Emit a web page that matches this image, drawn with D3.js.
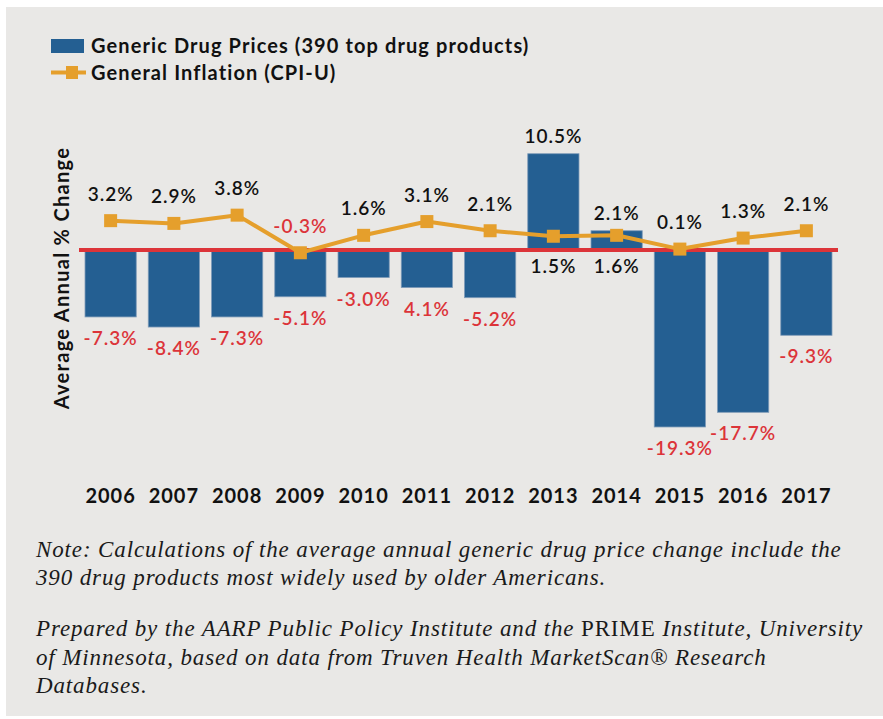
<!DOCTYPE html>
<html>
<head>
<meta charset="utf-8">
<script src="https://cdn.jsdelivr.net/npm/d3@7"></script>
<style>
    html, body { margin: 0; padding: 0; background: #fff; }
    svg { display: block; }
</style>
</head>
<body>
<div id="chart"></div>
<script>
// Generic drug prices vs general inflation, 2006-2017

const years = ['2006', '2007', '2008', '2009', '2010', '2011', '2012', '2013', '2014', '2015', '2016', '2017'];
const drugChange = [-7.3, -8.4, -7.3, -5.1, -3.0, -4.1, -5.2, 10.5, 2.1, -19.3, -17.7, -9.3];
// labels as printed in the source (2011 is printed without the minus sign)
const drugLabels = ['-7.3%', '-8.4%', '-7.3%', '-5.1%', '-3.0%', '4.1%', '-5.2%', '10.5%', '2.1%', '-19.3%', '-17.7%', '-9.3%'];
const cpiChange = [3.2, 2.9, 3.8, -0.3, 1.6, 3.1, 2.1, 1.5, 1.6, 0.1, 1.3, 2.1];
const seriesNames = ['Generic Drug Prices (390 top drug products)', 'General Inflation (CPI-U)'];
const yTitle = 'Average Annual % Change';
const noteLines = [
    [{ t: 'Note: Calculations of the average annual generic drug price change include the' }],
    [{ t: '390 drug products most widely used by older Americans.' }],
    [{ t: 'Prepared by the AARP Public Policy Institute and the ' }, { t: 'PRIME', upright: true }, { t: ' Institute, University' }],
    [{ t: 'of Minnesota, based on data from Truven Health MarketScan\u00AE Research' }],
    [{ t: 'Databases.' }]
];

const W = 883, H = 719;
const BLUE = '#245f92', ORANGE = '#e59f2c', RED = '#dc3439', INK = '#111';
const SANS = 'Lato, "Open Sans", sans-serif';

const svg = d3.select('#chart').append('svg')
    .attr('width', W)
    .attr('height', H);

// gray panel
svg.append('rect')
    .attr('x', 6).attr('y', 7)
    .attr('width', W - 6).attr('height', 709)
    .attr('fill', '#e9e8e6');

const x = d3.scaleBand()
    .domain(years)
    .range([79, 838])
    .paddingInner(0.19)
    .paddingOuter(0.095);

const y = d3.scaleLinear()
    .domain([-20, 12])
    .range([250 + 20 * 9.17, 250 - 12 * 9.17]);

const cx = d => x(d) + x.bandwidth() / 2;

// bars
svg.append('g').selectAll('rect')
    .data(years)
    .join('rect')
    .attr('x', d => x(d))
    .attr('width', x.bandwidth())
    .attr('y', (d, i) => y(Math.max(0, drugChange[i])))
    .attr('height', (d, i) => Math.abs(y(drugChange[i]) - y(0)))
    .attr('fill', BLUE)
    .attr('stroke', '#7f9bb8')
    .attr('stroke-width', 0.8);

// zero line
svg.append('line')
    .attr('x1', 79).attr('x2', 838)
    .attr('y1', y(0)).attr('y2', y(0))
    .attr('stroke', RED)
    .attr('stroke-width', 4);

// CPI line + markers
const line = d3.line()
    .x((d, i) => cx(years[i]))
    .y(d => y(d));

svg.append('path')
    .datum(cpiChange)
    .attr('d', line)
    .attr('fill', 'none')
    .attr('stroke', ORANGE)
    .attr('stroke-width', 4)
    .attr('stroke-linejoin', 'round');

svg.append('g').selectAll('rect')
    .data(cpiChange)
    .join('rect')
    .attr('x', (d, i) => cx(years[i]) - 6.5)
    .attr('y', d => y(d) - 6.5)
    .attr('width', 13)
    .attr('height', 13)
    .attr('fill', ORANGE);

// bar value labels
svg.append('g').selectAll('text')
    .data(years)
    .join('text')
    .attr('x', d => cx(d))
    .attr('y', (d, i) => drugChange[i] < 0 ? y(drugChange[i]) + 28 : y(drugChange[i]) - 11)
    .attr('text-anchor', 'middle')
    .attr('font-family', SANS)
    .attr('font-size', 19)
    .attr('font-weight', 600)
    .attr('letter-spacing', 1)
    .attr('fill', (d, i) => drugChange[i] < 0 ? RED : INK)
    .text((d, i) => drugLabels[i]);

// CPI value labels (below the zero line when the bar sits above it)
svg.append('g').selectAll('text')
    .data(cpiChange)
    .join('text')
    .attr('x', (d, i) => cx(years[i]))
    .attr('y', (d, i) => drugChange[i] > 0 ? y(0) + 23 : y(d) - 20)
    .attr('text-anchor', 'middle')
    .attr('font-family', SANS)
    .attr('font-size', 19)
    .attr('font-weight', 600)
    .attr('letter-spacing', 1)
    .attr('fill', d => d < 0 ? RED : INK)
    .text(d => d.toFixed(1) + '%');

// x axis (labels only)
const xAxis = svg.append('g')
    .attr('transform', 'translate(0,503)')
    .call(d3.axisBottom(x).tickSize(0).tickPadding(0));
xAxis.select('.domain').remove();
xAxis.selectAll('text')
    .attr('dy', 0)
    .attr('font-family', SANS)
    .attr('font-size', 20)
    .attr('font-weight', 700)
    .attr('letter-spacing', 1)
    .attr('fill', INK);

// y title
svg.append('text')
    .attr('transform', 'translate(69,278) rotate(-90)')
    .attr('text-anchor', 'middle')
    .attr('font-family', SANS)
    .attr('font-size', 20)
    .attr('font-weight', 700)
    .attr('letter-spacing', 1.3)
    .attr('fill', INK)
    .text(yTitle);

// legend
const legend = svg.append('g');
legend.append('rect')
    .attr('x', 51).attr('y', 39)
    .attr('width', 33).attr('height', 14)
    .attr('fill', BLUE);
legend.append('line')
    .attr('x1', 51).attr('x2', 86)
    .attr('y1', 72.5).attr('y2', 72.5)
    .attr('stroke', ORANGE)
    .attr('stroke-width', 4);
legend.append('rect')
    .attr('x', 66).attr('y', 66)
    .attr('width', 12).attr('height', 13)
    .attr('fill', ORANGE);
legend.selectAll('text')
    .data(seriesNames)
    .join('text')
    .attr('x', 91)
    .attr('y', (d, i) => 53 + i * 27)
    .attr('font-family', SANS)
    .attr('font-size', 20)
    .attr('font-weight', 700)
    .attr('letter-spacing', 1.1)
    .attr('fill', INK)
    .text(d => d);

// notes
const noteY = [557, 585, 636, 665, 693];
const notes = svg.append('g')
    .attr('font-family', '"Liberation Serif", "DejaVu Serif", serif')
    .attr('font-size', 23)
    .attr('letter-spacing', 0.87)
    .attr('fill', '#1a1a1a');
noteLines.forEach((parts, i) => {
    const t = notes.append('text')
        .attr('x', 36)
        .attr('y', noteY[i]);
    parts.forEach(p => {
        t.append('tspan')
            .attr('font-style', p.upright ? 'normal' : 'italic')
            .text(p.t);
    });
});
</script>
</body>
</html>
